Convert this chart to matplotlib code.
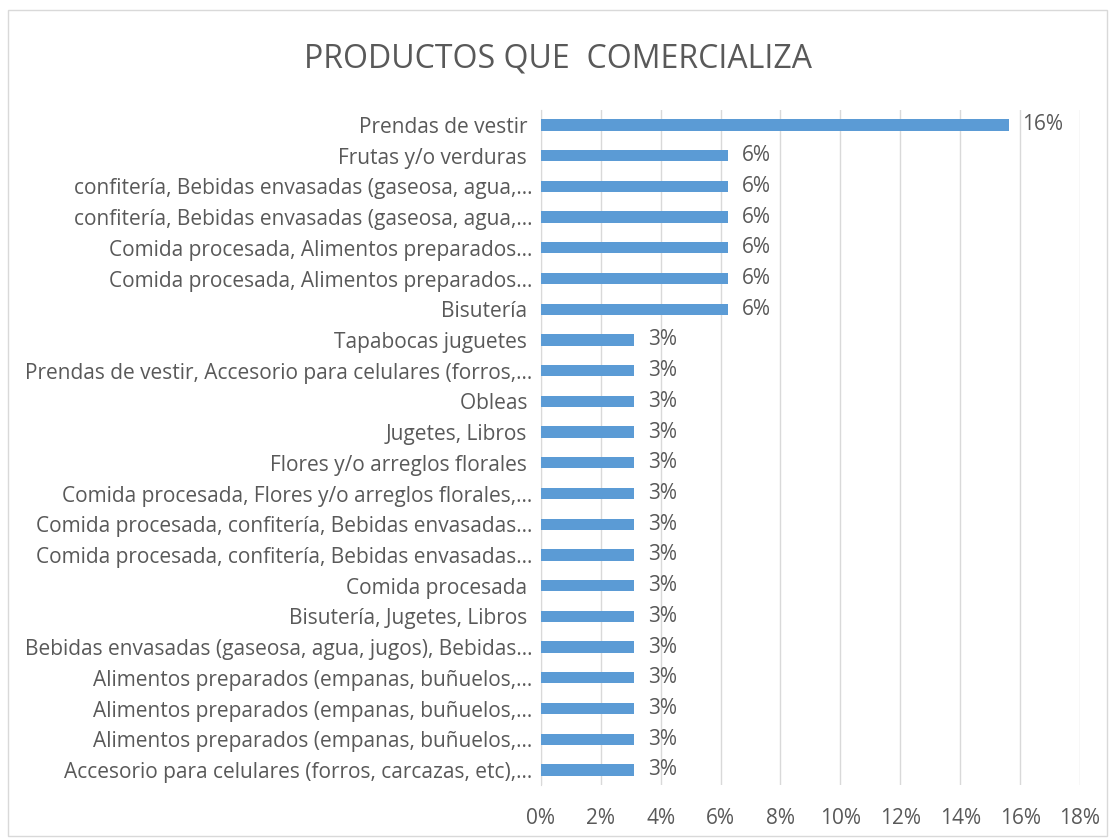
import matplotlib
matplotlib.use("Agg")
import matplotlib.pyplot as plt
from matplotlib.patches import Rectangle
from matplotlib.ticker import FuncFormatter

# Categories listed top to bottom, as in the chart
categories = [
    "Prendas de vestir ",
    "Frutas y/o verduras ",
    "confitería, Bebidas envasadas (gaseosa, agua,…",
    "confitería, Bebidas envasadas (gaseosa, agua,…",
    "Comida procesada, Alimentos preparados…",
    "Comida procesada, Alimentos preparados…",
    "Bisutería ",
    "Tapabocas juguetes ",
    "Prendas de vestir, Accesorio para celulares (forros,…",
    "Obleas ",
    "Jugetes, Libros ",
    "Flores y/o arreglos florales ",
    "Comida procesada, Flores y/o arreglos florales,…",
    "Comida procesada, confitería, Bebidas envasadas…",
    "Comida procesada, confitería, Bebidas envasadas…",
    "Comida procesada ",
    "Bisutería, Jugetes, Libros ",
    "Bebidas envasadas (gaseosa, agua, jugos), Bebidas…",
    "Alimentos preparados (empanas, buñuelos,…",
    "Alimentos preparados (empanas, buñuelos,…",
    "Alimentos preparados (empanas, buñuelos,…",
    "Accesorio para celulares (forros, carcazas, etc),…",
]
shares = [0.15625, 0.0625, 0.0625, 0.0625, 0.0625, 0.0625, 0.0625] + [0.03125] * 15
x_ticks = [0.0, 0.02, 0.04, 0.06, 0.08, 0.10, 0.12, 0.14, 0.16, 0.18]

title = "PRODUCTOS QUE  COMERCIALIZA"
bar_color = "#5B9BD5"
text_color = "#595959"
grid_color = "#D9D9D9"

plt.rcParams["font.family"] = ["Open Sans", "DejaVu Sans"]

fig = plt.figure(figsize=(11.15, 8.39), dpi=100)
ax = fig.add_axes([0.485, 0.064, 0.4836, 0.8054])

pos = list(range(len(categories)))
ax.barh(pos, shares, height=0.37, color=bar_color, zorder=3)
ax.set_ylim(len(categories) - 0.5, -0.5)
ax.set_xlim(0, 0.18)

for p, v in zip(pos, shares):
    ax.text(v + 0.0045, p, f"{v:.0%}", va="center", ha="left",
            fontsize=15, color=text_color)

ax.set_yticks(pos)
ax.set_yticklabels(categories, fontsize=15, color=text_color)
ax.set_xticks(x_ticks)
ax.xaxis.set_major_formatter(FuncFormatter(lambda v, _: f"{v:.0%}"))
ax.tick_params(axis="x", labelsize=15, colors=text_color, length=0, pad=16)
ax.tick_params(axis="y", length=0, pad=6)
ax.grid(axis="x", color=grid_color, linewidth=1, zorder=0)
for side in ["top", "right", "bottom"]:
    ax.spines[side].set_visible(False)
ax.spines["left"].set_color(grid_color)

fig.text(0.5, 0.93, title, ha="center", va="center", fontsize=23,
         color=text_color)

fig.patches.append(Rectangle((0.007, 0.004), 0.986, 0.984,
                             transform=fig.transFigure, fill=False,
                             edgecolor=grid_color, linewidth=1))

fig.savefig("out.png", dpi=100)
